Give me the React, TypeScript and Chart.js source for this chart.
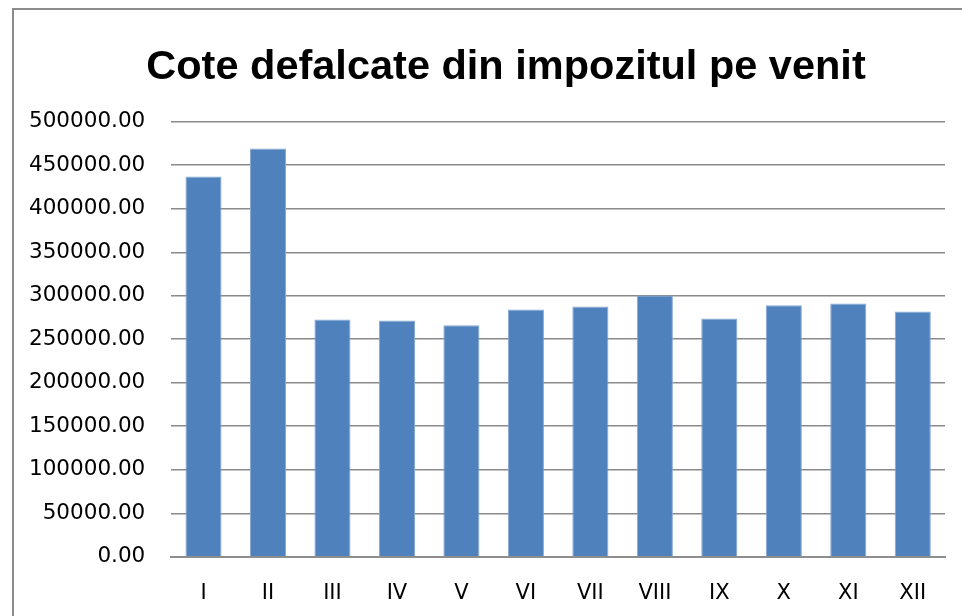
import React, { useEffect, useRef } from "react";
import { Chart, registerables } from "chart.js";

Chart.register(...registerables);

const TITLE = "Cote defalcate din impozitul pe venit";
const months = ["I", "II", "III", "IV", "V", "VI", "VII", "VIII", "IX", "X", "XI", "XII"];
const values = [437000, 469200, 272700, 271500, 266100, 284200, 287700, 300300, 273800, 289200, 291100, 281900];
const yMin = 0;
const yMax = 500000;
const yStep = 50000;

// Center the title over the whole canvas rather than the padded layout box
const fullWidthTitle = {
  id: "fullWidthTitle",
  afterLayout(chart: any) {
    const tb = chart.titleBlock;
    if (tb) {
      tb.left = 0;
      tb.right = chart.width;
    }
  },
};

export default function App() {
  const ref = useRef<HTMLCanvasElement | null>(null);

  useEffect(() => {
    if (!ref.current) return;
    const chart = new Chart(ref.current, {
      type: "bar",
      data: {
        labels: months,
        datasets: [
          {
            data: values,
            backgroundColor: "#4F81BD",
            borderColor: "#86A8D6",
            borderWidth: 1,
            barPercentage: 0.56,
            categoryPercentage: 1,
          },
        ],
      },
      plugins: [fullWidthTitle],
      options: {
        responsive: false,
        maintainAspectRatio: false,
        animation: false,
        layout: { padding: { left: 3, right: 67, top: 0, bottom: 0 } },
        plugins: {
          legend: { display: false },
          tooltip: { enabled: false },
          title: {
            display: true,
            text: TITLE,
            color: "#000",
            font: { family: "'Liberation Sans', Arial, sans-serif", size: 41.5, weight: "bold" },
            padding: { top: 42.5, bottom: 29.5 },
          },
        },
        scales: {
          x: {
            grid: { display: false, drawTicks: false },
            border: { display: true, color: "#8e8e8e", width: 2 },
            ticks: {
              color: "#000",
              padding: 24,
              font: { family: "'DejaVu Sans', sans-serif", size: 21 },
            },
          },
          y: {
            min: yMin,
            max: yMax,
            grid: { color: "#8a8a8a", lineWidth: 1.6, drawTicks: false },
            border: { display: false },
            ticks: {
              stepSize: yStep,
              color: "#000",
              padding: 26,
              font: { family: "'DejaVu Sans', sans-serif", size: 21.5 },
              callback: (v: any) => Number(v).toFixed(2),
            },
          },
        },
      },
    });
    return () => chart.destroy();
  }, []);

  return (
    <div style={{ position: "fixed", left: 0, top: 0, width: 962, height: 616, overflow: "hidden", background: "#fff" }}>
      <div
        style={{
          position: "absolute",
          left: 12,
          top: 8,
          width: 1100,
          height: 800,
          border: "2px solid #8c8c8c",
          boxSizing: "border-box",
        }}
      />
      <canvas
        ref={ref}
        width={1012}
        height={630}
        style={{ position: "absolute", left: 0, top: 0, width: 1012, height: 630 }}
      />
    </div>
  );
}
